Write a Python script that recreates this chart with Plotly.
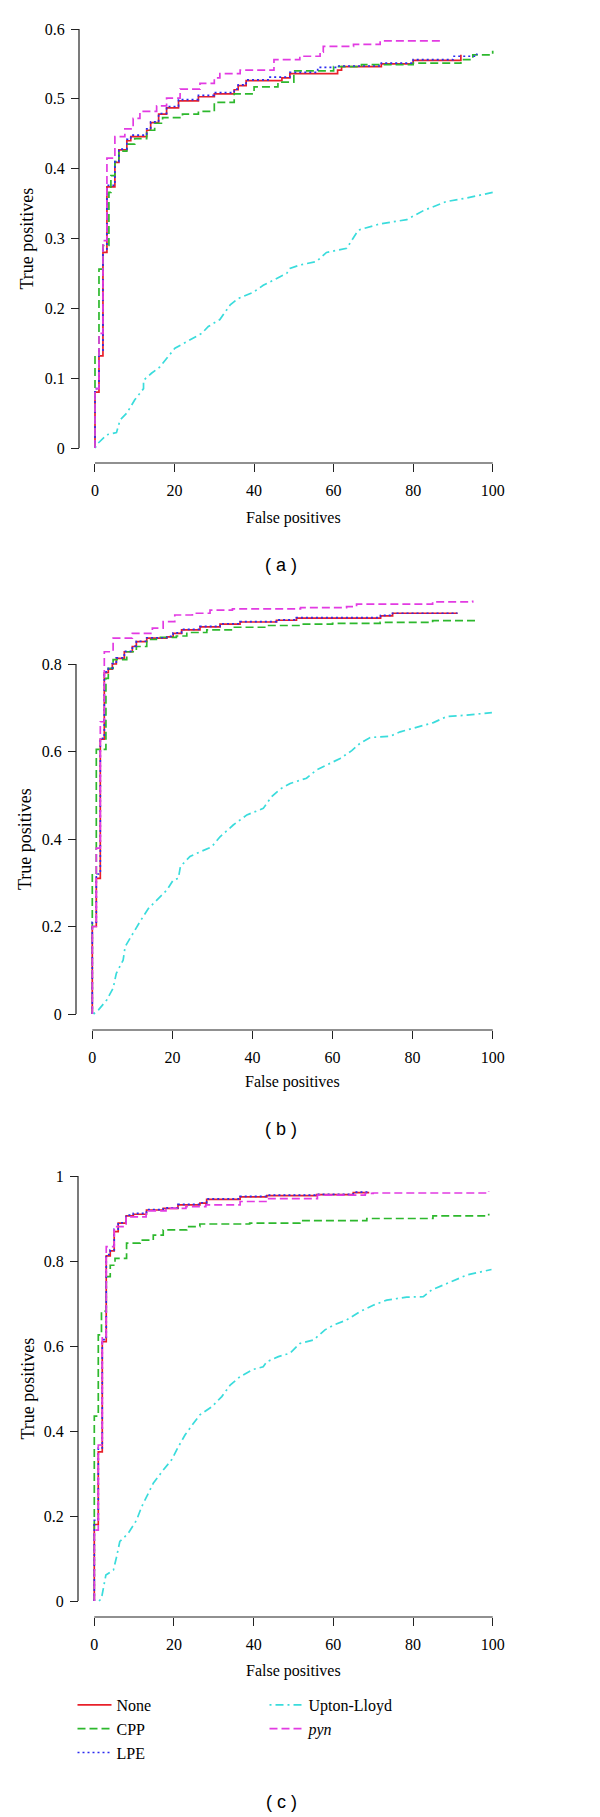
import plotly.graph_objects as go

W, H = 600, 1817

# ---------------- data ----------------
series_names = ["None", "CPP", "LPE", "Upton-Lloyd", "<i>pyn</i>"]
series_colors = ["#E8202A", "#2DB82D", "#2B2BF0", "#3ADCDC", "#E23BE2"]
series_dash = ["solid", "8px,4px", "2px,3px", "2px,4px,8px,4px", "8px,4px"]

panel_labels = ["( a )", "( b )", "( c )"]
x_ticks = [0, 20, 40, 60, 80, 100]
y_ticks_a = [0, 0.1, 0.2, 0.3, 0.4, 0.5, 0.6]
y_ticktext_a = ["0", "0.1", "0.2", "0.3", "0.4", "0.5", "0.6"]
y_ticks_b = [0, 0.2, 0.4, 0.6, 0.8]
y_ticktext_b = ["0", "0.2", "0.4", "0.6", "0.8"]
y_ticks_c = [0, 0.2, 0.4, 0.6, 0.8, 1.0]
y_ticktext_c = ["0", "0.2", "0.4", "0.6", "0.8", "1"]

# Panel (a)
a_none_fp = [0, 0, 1, 2, 3, 5, 6, 8, 9, 13, 14, 16, 18, 21, 26, 30, 35, 36, 38, 47, 49, 61, 62, 72, 80, 92]
a_none_tp = [0, 0.08, 0.132, 0.28, 0.374, 0.409, 0.427, 0.44, 0.446, 0.455, 0.466, 0.478, 0.487, 0.497,
             0.503, 0.507, 0.513, 0.519, 0.526, 0.53, 0.536, 0.541, 0.546, 0.55, 0.555, 0.563]
a_cpp_fp = [0, 0, 1, 2, 3.5, 4, 5, 6, 8, 10, 13, 15, 17, 22, 26, 30, 35, 40, 46, 50, 60, 67, 80, 92, 95, 100]
a_cpp_tp = [0, 0.132, 0.256, 0.29, 0.366, 0.39, 0.41, 0.425, 0.435, 0.443, 0.455, 0.465, 0.473, 0.478,
            0.482, 0.495, 0.507, 0.517, 0.524, 0.54, 0.546, 0.549, 0.551, 0.556, 0.563, 0.569]
a_lpe_fp = [0, 0, 1, 2, 3, 5, 6, 8, 9, 13, 14, 16, 18, 21, 26, 30, 35, 36, 38, 44, 49, 56, 61, 72, 80, 90, 96]
a_lpe_tp = [0, 0.085, 0.14, 0.285, 0.376, 0.41, 0.428, 0.442, 0.448, 0.457, 0.467, 0.479, 0.489, 0.499,
            0.505, 0.509, 0.514, 0.52, 0.527, 0.531, 0.538, 0.545, 0.547, 0.551, 0.556, 0.561, 0.565]
a_ul_fp = [0, 0.8, 3, 5.4, 6.3, 8, 10, 12.2, 12.2, 14.2, 16.3, 18.4, 20.1, 23, 26.8, 28.5, 31.4, 34, 36,
           39.8, 42.3, 48.2, 49, 51.5, 55.7, 58.2, 63.3, 66.2, 71.7, 78.4, 82.6, 88.4, 93.5, 100]
a_ul_tp = [0, 0.007, 0.019, 0.022, 0.04, 0.05, 0.069, 0.085, 0.097, 0.107, 0.116, 0.13, 0.143, 0.152,
           0.164, 0.174, 0.184, 0.205, 0.214, 0.223, 0.233, 0.25, 0.257, 0.262, 0.267, 0.28, 0.286,
           0.312, 0.321, 0.327, 0.34, 0.353, 0.358, 0.366]
a_pyn_fp = [0, 0, 1, 2, 3, 5, 7.5, 9.6, 11.3, 15.5, 18, 21.4, 26.4, 30, 31.4, 36.5, 45, 51.5, 56.6, 57.4,
            65, 71.7, 87]
a_pyn_tp = [0, 0.085, 0.164, 0.297, 0.415, 0.446, 0.457, 0.472, 0.482, 0.49, 0.501, 0.514, 0.522, 0.53,
            0.536, 0.541, 0.556, 0.561, 0.567, 0.575, 0.578, 0.583, 0.587]

# Panel (b)
b_none_fp = [0, 0, 1, 2, 3, 4, 5, 6, 8, 10, 11, 13.6, 18.6, 20.2, 22.3, 26.9, 31.9, 36.9, 46, 51, 72, 75, 91]
b_none_tp = [0, 0.2, 0.31, 0.628, 0.78, 0.788, 0.8, 0.813, 0.828, 0.84, 0.851, 0.859, 0.862, 0.87, 0.878,
             0.885, 0.891, 0.896, 0.9, 0.905, 0.91, 0.916, 0.918]
b_cpp_fp = [0, 0, 1, 3.4, 4, 5.2, 8.6, 11, 13.6, 16, 21, 23.6, 28.6, 35, 43.5, 51.9, 60, 71.9, 85, 96]
b_cpp_tp = [0, 0.32, 0.605, 0.767, 0.79, 0.81, 0.828, 0.84, 0.856, 0.861, 0.864, 0.872, 0.878, 0.884,
            0.888, 0.891, 0.893, 0.895, 0.899, 0.903]
b_lpe_fp = [0, 0, 1, 2, 3, 4, 5, 6, 8, 10, 11, 13.6, 18.6, 20.2, 22.3, 26.9, 31.9, 36.9, 46, 51, 72, 75, 91]
b_lpe_tp = [0, 0.21, 0.32, 0.63, 0.782, 0.79, 0.801, 0.814, 0.829, 0.841, 0.852, 0.86, 0.863, 0.871,
            0.879, 0.886, 0.892, 0.897, 0.901, 0.906, 0.911, 0.916, 0.918]
b_ul_fp = [0.3, 1.5, 3.6, 5.2, 6, 7.7, 8.2, 9.8, 11.9, 14, 16, 18.6, 20.2, 21.5, 22, 24.4, 27, 29.8, 31.9,
           35.2, 38.6, 42.7, 44.8, 46.9, 49.4, 53.5, 56, 59.4, 61.9, 64.8, 66.9, 69.4, 74.4, 76.9, 81.9,
           85.2, 88.5, 93.5, 99.8]
b_ul_tp = [0, 0.009, 0.032, 0.059, 0.093, 0.123, 0.154, 0.18, 0.211, 0.241, 0.26, 0.283, 0.306, 0.31,
           0.337, 0.36, 0.371, 0.382, 0.405, 0.432, 0.455, 0.47, 0.497, 0.514, 0.527, 0.539, 0.558, 0.573,
           0.584, 0.602, 0.619, 0.632, 0.635, 0.645, 0.657, 0.666, 0.68, 0.683, 0.689]
b_pyn_fp = [0, 0, 1, 2, 3, 5.2, 10, 15, 17.7, 20.6, 25, 29.4, 35, 52, 63.5, 66, 85, 95]
b_pyn_tp = [0, 0.2, 0.379, 0.668, 0.828, 0.859, 0.87, 0.882, 0.897, 0.912, 0.916, 0.923, 0.926, 0.929,
            0.931, 0.937, 0.942, 0.945]

# Panel (c)
c_none_fp = [0, 0, 1, 2, 3, 4, 5, 6, 8, 9.8, 13.1, 17.3, 21, 26.5, 28.2, 36.6, 43.3, 55.8, 65, 68.8]
c_none_tp = [0, 0.18, 0.351, 0.61, 0.812, 0.824, 0.869, 0.889, 0.906, 0.91, 0.92, 0.924, 0.932, 0.936,
             0.945, 0.951, 0.954, 0.956, 0.961, 0.963]
c_cpp_fp = [0, 0, 1, 1.8, 3, 4, 5.2, 8.1, 11.5, 14.8, 17.3, 23.2, 26.5, 39, 51.6, 68.4, 85, 99]
c_cpp_tp = [0, 0.435, 0.626, 0.682, 0.763, 0.79, 0.806, 0.842, 0.849, 0.861, 0.873, 0.881, 0.887, 0.889,
            0.895, 0.9, 0.906, 0.911]
c_lpe_fp = [0, 0, 1, 2, 3, 4, 5, 6, 8, 9.8, 13.1, 17.3, 21, 26.5, 28.2, 36.6, 43.3, 55.8, 65, 68.8]
c_lpe_tp = [0, 0.19, 0.36, 0.615, 0.815, 0.826, 0.875, 0.89, 0.908, 0.912, 0.921, 0.925, 0.933, 0.937,
            0.946, 0.952, 0.955, 0.957, 0.962, 0.963]
c_ul_fp = [1.2, 1.8, 2.9, 4.8, 5.6, 6.4, 8.5, 10.6, 11.9, 13.1, 14.8, 17.3, 19.4, 21.1, 22.8, 24.9, 26.5,
           29.5, 32, 34.1, 36.6, 39.9, 42.4, 43.3, 46.2, 49.1, 51.6, 55, 57.9, 60, 63.3, 66.7, 70, 73.4,
           78.4, 82.6, 84.7, 88.5, 93.5, 99.7]
c_ul_tp = [0, 0.006, 0.061, 0.073, 0.104, 0.14, 0.159, 0.19, 0.222, 0.245, 0.277, 0.308, 0.332, 0.363,
           0.391, 0.418, 0.438, 0.457, 0.481, 0.508, 0.528, 0.545, 0.551, 0.563, 0.575, 0.583, 0.606,
           0.614, 0.638, 0.649, 0.661, 0.681, 0.696, 0.708, 0.715, 0.716, 0.732, 0.747, 0.767, 0.78]
c_pyn_fp = [0, 0, 1, 2, 3, 5, 8, 13, 18, 23, 28, 36.6, 43.3, 56, 68, 70, 99]
c_pyn_tp = [0, 0.167, 0.367, 0.622, 0.834, 0.881, 0.904, 0.918, 0.924, 0.928, 0.932, 0.94, 0.947, 0.955,
            0.959, 0.96, 0.965]

panels_data = [
    [(a_none_fp, a_none_tp), (a_cpp_fp, a_cpp_tp), (a_lpe_fp, a_lpe_tp), (a_ul_fp, a_ul_tp), (a_pyn_fp, a_pyn_tp)],
    [(b_none_fp, b_none_tp), (b_cpp_fp, b_cpp_tp), (b_lpe_fp, b_lpe_tp), (b_ul_fp, b_ul_tp), (b_pyn_fp, b_pyn_tp)],
    [(c_none_fp, c_none_tp), (c_cpp_fp, c_cpp_tp), (c_lpe_fp, c_lpe_tp), (c_ul_fp, c_ul_tp), (c_pyn_fp, c_pyn_tp)],
]

# ---------------- layout geometry (pixels) ----------------
geom = [
    dict(x0=95.0, x100=492.7, y0=448.0, ytopv=0.6, ytop=29.0, yline=79.0, xline=463.0, ymax=0.62,
         yt=y_ticks_a, ytt=y_ticktext_a, ytitle_x=27, xtitle_y=518, lab_y=565),
    dict(x0=92.3, x100=492.7, y0=1014.0, ytopv=0.8, ytop=664.0, yline=76.0, xline=1030.0, ymax=0.97,
         yt=y_ticks_b, ytt=y_ticktext_b, ytitle_x=25, xtitle_y=1082, lab_y=1129),
    dict(x0=94.3, x100=492.7, y0=1601.0, ytopv=1.0, ytop=1176.0, yline=78.0, xline=1617.0, ymax=1.02,
         yt=y_ticks_c, ytt=y_ticktext_c, ytitle_x=27, xtitle_y=1671, lab_y=1802),
]

SERIF = "Liberation Serif"
SANS = "Liberation Sans"

def px(x):
    return x / W

def py(y):
    return 1 - y / H

fig = go.Figure()
layout = dict(width=W, height=H, margin=dict(l=0, r=0, t=0, b=0),
              paper_bgcolor="white", plot_bgcolor="white", showlegend=True)
shapes = []
annotations = []

for i, g in enumerate(geom):
    n = "" if i == 0 else str(i + 1)
    sx = (g["x100"] - g["x0"]) / 100.0
    sy = (g["y0"] - g["ytop"]) / g["ytopv"]
    xlo, xhi = -3, 103
    ylo, yhi = -0.025, g["ymax"]
    xd = [px(g["x0"] + xlo * sx), px(g["x0"] + xhi * sx)]
    yd = [py(g["y0"] - ylo * sy), py(g["y0"] - yhi * sy)]
    layout["xaxis" + n] = dict(domain=xd, range=[xlo, xhi], anchor="free", position=py(g["xline"]),
                               showgrid=False, zeroline=False, showline=False,
                               tickvals=x_ticks, ticktext=[str(v) for v in x_ticks],
                               ticks="outside", ticklen=8, tickwidth=1, tickcolor="#222",
                               ticklabelstandoff=5,
                               tickfont=dict(family=SERIF, size=16, color="#000"), fixedrange=True)
    layout["yaxis" + n] = dict(domain=yd, range=[ylo, yhi], anchor="free", position=px(g["yline"]),
                               showgrid=False, zeroline=False, showline=False,
                               tickvals=g["yt"], ticktext=g["ytt"],
                               ticks="outside", ticklen=8, tickwidth=1, tickcolor="#222",
                               ticklabelstandoff=3,
                               tickfont=dict(family=SERIF, size=16, color="#000"), fixedrange=True)
    shapes.append(dict(type="line", xref="paper", yref="paper",
                       x0=px(g["x0"]), x1=px(g["x100"]), y0=py(g["xline"]), y1=py(g["xline"]),
                       line=dict(color="#222", width=1.2)))
    shapes.append(dict(type="line", xref="paper", yref="paper",
                       x0=px(g["yline"]), x1=px(g["yline"]), y0=py(g["y0"]), y1=py(g["ytop"]),
                       line=dict(color="#222", width=1.2)))
    annotations.append(dict(text="True positives", xref="paper", yref="paper",
                            x=px(g["ytitle_x"]), y=py((g["y0"] + g["ytop"]) / 2), textangle=-90,
                            showarrow=False, xanchor="center", yanchor="middle",
                            font=dict(family=SERIF, size=18, color="#000")))
    annotations.append(dict(text="False positives", xref="paper", yref="paper",
                            x=px((g["x0"] + g["x100"]) / 2), y=py(g["xtitle_y"]),
                            showarrow=False, xanchor="center", yanchor="middle",
                            font=dict(family=SERIF, size=16, color="#000")))
    annotations.append(dict(text=panel_labels[i], xref="paper", yref="paper",
                            x=px(281), y=py(g["lab_y"]),
                            showarrow=False, xanchor="center", yanchor="middle",
                            font=dict(family=SANS, size=18, color="#000")))

    for k, (fp, tp) in enumerate(panels_data[i]):
        shape = "linear" if k == 3 else "hv"
        fig.add_trace(go.Scatter(
            x=fp, y=tp, mode="lines", name=series_names[k],
            xaxis="x" + n, yaxis="y" + n,
            line=dict(color=series_colors[k], width=1.7, dash=series_dash[k], shape=shape),
            showlegend=(i == 2),
            legend=("legend" if k < 3 else "legend2"),
            legendgroup="g%d" % k,
            hoverinfo="skip",
        ))

leg_font = dict(family=SERIF, size=16, color="#000")
layout["legend"] = dict(x=px(72.5), y=py(1688), xanchor="left", yanchor="top", font=leg_font,
                        bgcolor="rgba(0,0,0,0)", tracegroupgap=0, itemwidth=34)
layout["legend2"] = dict(x=px(264.5), y=py(1688), xanchor="left", yanchor="top", font=leg_font,
                         bgcolor="rgba(0,0,0,0)", tracegroupgap=0, itemwidth=34)
layout["shapes"] = shapes
layout["annotations"] = annotations
fig.update_layout(**layout)

fig.write_html("out.html", config={"displayModeBar": False, "staticPlot": True},
               post_script="document.body.style.margin='0';document.body.style.padding='0';")
